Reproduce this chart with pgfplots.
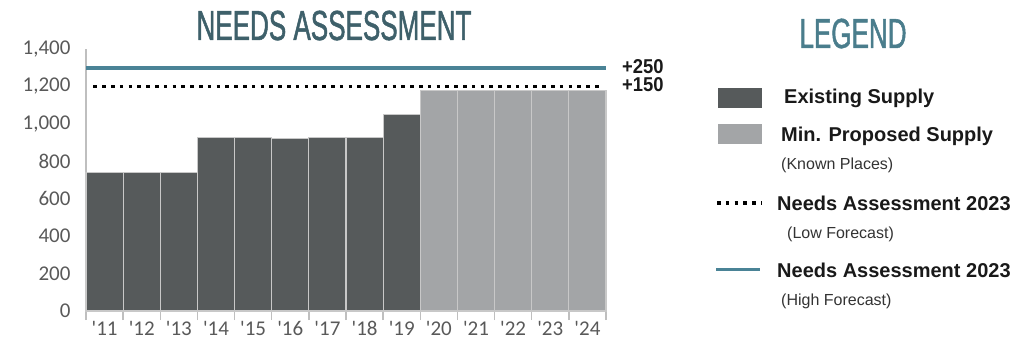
\documentclass[border=0pt]{standalone}
\usepackage{fontspec}
\setmainfont{Liberation Sans}
\newfontfamily\carlito{Carlito}
\newfontfamily\condensed[FakeStretch=0.62, FakeBold=1.2]{Liberation Sans}
\newfontfamily\annot[FakeStretch=0.92]{Liberation Sans}
\usepackage{pgfplots}
\pgfplotsset{compat=1.18}
\definecolor{darkbar}{RGB}{86,90,91}
\definecolor{lightbar}{RGB}{163,165,167}
\definecolor{teal1}{RGB}{74,131,150}
\definecolor{titlecol}{RGB}{62,96,106}
\definecolor{legcol}{RGB}{74,125,140}
\definecolor{axisgray}{RGB}{191,191,191}
\definecolor{sepgray}{RGB}{200,200,200}
\definecolor{ticklab}{RGB}{89,89,89}
\begin{document}
\begin{tikzpicture}[x=1pt,y=1pt]
\path[use as bounding box] (0,0) rectangle (1024,353);
\begin{axis}[
  at={(86pt,42pt)}, anchor=south west,
  scale only axis, width=520pt, height=262pt,
  xmin=-0.5, xmax=13.5, ymin=0, ymax=1400,
  axis x line*=bottom, axis y line*=left,
  axis line style={axisgray, line width=1.5pt, -},
  ytick={0,200,400,600,800,1000,1200,1400},
  yticklabels={0,200,400,600,800,{1,000},{1,200},{1,400}},
  xtick={0,...,13},
  xticklabels={\textquotesingle 11,\textquotesingle 12,\textquotesingle 13,\textquotesingle 14,\textquotesingle 15,\textquotesingle 16,\textquotesingle 17,\textquotesingle 18,\textquotesingle 19,\textquotesingle 20,\textquotesingle 21,\textquotesingle 22,\textquotesingle 23,\textquotesingle 24},
  minor xtick={-0.5,0.5,...,13.5},
  major tick length=0pt, minor tick length=9pt, tick align=outside,
  minor x tick style={axisgray, line width=1.5pt},
  major tick style={draw=none},
  yticklabel style={font=\carlito\fontsize{21}{21}\selectfont, text=ticklab, xshift=-12pt},
  xticklabel style={font=\carlito\fontsize{21}{21}\selectfont, text=ticklab, yshift=-7pt},
  ybar, bar width=1, bar shift=0,
  clip=false,
]
\addplot[fill=darkbar, draw=sepgray, line width=1.2pt] coordinates {
  (0,740) (1,740) (2,740) (3,925) (4,925) (5,920) (6,925) (7,925) (8,1050)};
\addplot[fill=lightbar, draw=sepgray, line width=1.2pt] coordinates {
  (9,1180) (10,1180) (11,1180) (12,1180) (13,1180)};
\addplot[sharp plot, teal1, line width=4pt] coordinates {(-0.5,1300) (13.5,1300)};
\addplot[sharp plot, black, line width=3.5pt, dash pattern=on 3.5pt off 5.3pt] coordinates {(-0.3,1200) (13.3,1200)};
\end{axis}
% annotations
\node[anchor=west, font=\annot\bfseries\fontsize{20}{20}\selectfont, text=black!90, inner sep=0pt] at (622,286) {+250};
\node[anchor=west, font=\annot\bfseries\fontsize{20}{20}\selectfont, text=black!90, inner sep=0pt] at (622,268) {+150};
% titles
\node[anchor=base, font=\condensed\fontsize{42}{42}\selectfont, text=titlecol, inner sep=0pt] at (334,313) {NEEDS ASSESSMENT};
\node[anchor=base, font=\condensed\fontsize{42}{42}\selectfont, text=legcol, inner sep=0pt] at (853,305) {LEGEND};
% legend
\fill[darkbar] (718,245) rectangle (762,265);
\fill[lightbar] (718,209) rectangle (762,229);
\draw[black, line width=3.5pt, dash pattern=on 3.5pt off 5.3pt] (717,150) -- (762,150);
\draw[teal1, line width=3pt] (716,83) -- (760,83);
\begin{scope}[every node/.style={anchor=base west, inner sep=0pt}]
\node[font=\bfseries\fontsize{20}{20}\selectfont, text=black!90] at (784,249) {Existing Supply};
\node[font=\bfseries\fontsize{20}{20}\selectfont, text=black!90] at (781,211.5) {Min. Proposed Supply};
\node[font=\fontsize{16}{16}\selectfont, text=black!80] at (781,183.5) {(Known Places)};
\node[font=\bfseries\fontsize{20}{20}\selectfont, text=black!90] at (777,142.5) {Needs Assessment 2023};
\node[font=\fontsize{16}{16}\selectfont, text=black!80] at (787,114) {(Low Forecast)};
\node[font=\bfseries\fontsize{20}{20}\selectfont, text=black!90] at (777,75.5) {Needs Assessment 2023};
\node[font=\fontsize{16}{16}\selectfont, text=black!80] at (781,47) {(High Forecast)};
\end{scope}
\end{tikzpicture}
\end{document}
